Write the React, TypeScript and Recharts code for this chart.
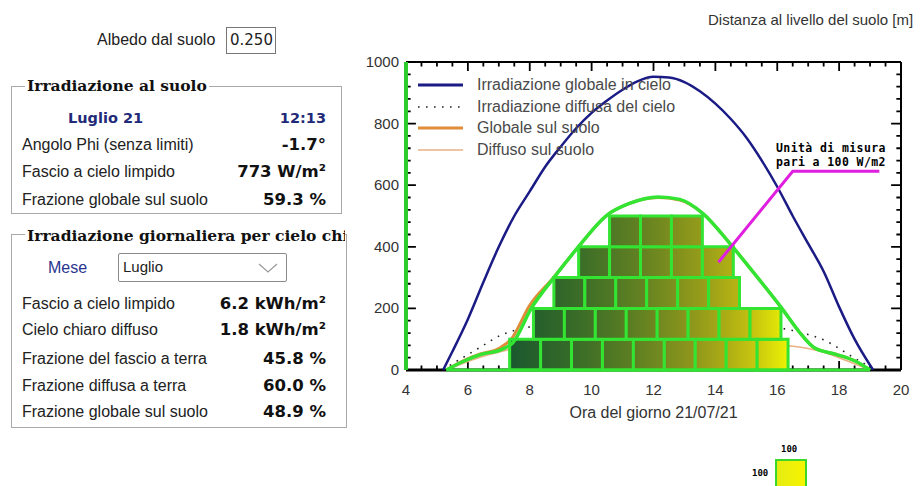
import React from "react";
import {
  LineChart,
  Line,
  XAxis,
  YAxis,
  ReferenceArea,
  ReferenceLine,
  Legend,
  Label,
} from "recharts";

// Irradiazione globale in cielo (W/m2)
const skyGlobalHours = [5.2, 5.5, 6, 6.5, 7, 7.5, 8, 8.5, 9, 9.5, 10, 10.5, 11, 11.5, 12, 12.5, 13, 13.5, 14, 14.5, 15, 15.5, 16, 16.5, 17, 17.5, 18, 18.5, 19.1];
const skyGlobalValues = [0, 60, 165, 285, 400, 500, 580, 660, 725, 785, 835, 875, 910, 938, 952, 950, 935, 905, 865, 815, 755, 680, 595, 500, 410, 320, 205, 100, 0];

// Irradiazione diffusa del cielo
const skyDiffuseHours = [5.2, 5.5, 6, 6.5, 7, 7.5, 8, 9, 10, 11, 12, 13, 14, 15, 16, 16.5, 17, 17.5, 18, 18.5, 19, 19.1];
const skyDiffuseValues = [0, 20, 50, 80, 110, 128, 140, 150, 155, 158, 160, 158, 155, 148, 138, 128, 115, 98, 70, 38, 8, 0];

// Globale sul suolo
const groundGlobalHours = [5.3, 5.9, 6.4, 7.0, 7.4, 8.0, 8.75, 9.55, 10.5, 11.2, 12.15, 12.85, 13.6, 14.5, 15.1, 16.15, 16.7, 17.2, 17.9, 18.5, 19.0];
const groundGlobalValues = [0, 32, 52, 70, 100, 210, 298, 397, 503, 540, 560, 552, 508, 407, 333, 200, 125, 72, 51, 30, 0];

// Diffuso sul suolo
const groundDiffuseHours = [5.3, 6, 6.5, 7, 7.5, 8, 9, 10, 11, 12, 13, 14, 15, 16, 16.5, 17, 17.5, 18, 18.5, 19];
const groundDiffuseValues = [0, 28, 45, 58, 70, 78, 85, 90, 93, 94, 93, 90, 86, 80, 77, 70, 58, 40, 20, 0];

// contorno verde disegnato sopra
const outlineHours = [5.3, 5.9, 6.4, 7.1, 7.45, 8.05, 8.75, 9.55, 10.5, 11.2, 12.15, 12.85, 13.6, 14.5, 15.1, 16.15, 16.7, 17.2, 17.9, 18.5, 19.0];
const outlineValues = [0, 30, 50, 67, 88, 200, 296, 397, 503, 540, 562, 554, 508, 407, 333, 200, 125, 72, 51, 30, 0];

// blocchi da 100 W/m2 (una riga per fascia)
const blockRowStarts = [7.35, 8.12, 8.78, 9.58, 10.58];
const blockRowCounts = [9, 8, 6, 5, 3];
const blockHours = 1.0;
const blockUnit = 100;

// freccia "Unità di misura"
const pointerHours = [14.1, 16.5, 19.3];
const pointerValues = [350, 645, 645];

const xMin = 4;
const xMax = 20;
const yMin = 0;
const yMax = 1000;
const xMajorTicks = [4, 6, 8, 10, 12, 14, 16, 18, 20];
const xTicks = Array.from({ length: 33 }, (_, i) => 4 + i * 0.5);
const yTicks = Array.from({ length: 26 }, (_, i) => i * 40);
const yMajorTicks = [0, 200, 400, 600, 800, 1000];

const legendLabels = [
  "Irradiazione globale in cielo",
  "Irradiazione diffusa del cielo",
  "Globale sul suolo",
  "Diffuso sul suolo",
];

const toPoints = (hours: number[], values: number[]) =>
  hours.map((h, i) => ({ hour: h, value: values[i] }));

const skyGlobal = toPoints(skyGlobalHours, skyGlobalValues);
const skyDiffuse = toPoints(skyDiffuseHours, skyDiffuseValues);
const groundGlobal = toPoints(groundGlobalHours, groundGlobalValues);
const groundDiffuse = toPoints(groundDiffuseHours, groundDiffuseValues);
const outline = toPoints(outlineHours, outlineValues);
const pointer = toPoints(pointerHours, pointerValues);

// tick marks drawn inward from each side of the frame (lengths in axis units)
const hourTickLen = (t: number) => (yMajorTicks.includes(t) ? 0.32 : 0.15);
const valueTickLen = (t: number) => (xMajorTicks.includes(t) ? 29 : 15);
const bottomTicks = xTicks.flatMap((t) => [
  { hour: t, value: yMin },
  { hour: t, value: yMin + valueTickLen(t) },
  { hour: t, value: yMin },
]);
const topTicks = xTicks.flatMap((t) => [
  { hour: t, value: yMax },
  { hour: t, value: yMax - valueTickLen(t) },
  { hour: t, value: yMax },
]);
const leftTicks = yTicks.flatMap((t) => [
  { hour: xMin, value: t },
  { hour: xMin + hourTickLen(t), value: t },
  { hour: xMin, value: t },
]);
const rightTicks = yTicks.flatMap((t) => [
  { hour: xMax, value: t },
  { hour: xMax - hourTickLen(t), value: t },
  { hour: xMax, value: t },
]);

const blocks = blockRowStarts.flatMap((start, row) =>
  Array.from({ length: blockRowCounts[row] }, (_, i) => ({
    id: `b${row}-${i}`,
    x1: start + i * blockHours,
    x2: start + (i + 1) * blockHours,
    y1: row * blockUnit,
    y2: (row + 1) * blockUnit,
  }))
);

// colour ramp, dark green -> yellow
const shade: [number, number[]][] = [
  [7.35, [26, 88, 46]],
  [9.5, [56, 108, 40]],
  [11.5, [96, 128, 34]],
  [13.5, [148, 154, 26]],
  [15.0, [190, 186, 18]],
  [16.4, [238, 244, 4]],
];
function shadeAt(h: number) {
  if (h <= shade[0][0]) return `rgb(${shade[0][1].join(",")})`;
  for (let i = 1; i < shade.length; i++) {
    if (h <= shade[i][0]) {
      const [h0, c0] = shade[i - 1];
      const [h1, c1] = shade[i];
      const t = (h - h0) / (h1 - h0);
      const c = c0.map((v, k) => Math.round(v + (c1[k] - v) * t));
      return `rgb(${c.join(",")})`;
    }
  }
  return `rgb(${shade[shade.length - 1][1].join(",")})`;
}

const BLUE = "#1b1b86";
const ORANGE = "#e08c38";
const ORANGE_LIGHT = "#eab184";
const GREEN = "#33e433";
const AXIS_GREEN = "#2ccc2c";
const MAGENTA = "#e01ee0";
const FRAME = "#000";

const BottomTick = (props: any) => {
  const { x, y, payload } = props;
  if (!xMajorTicks.includes(payload.value)) return <g />;
  return (
    <text x={x} y={y + 25} textAnchor="middle" fontSize={15} fill="#333" fontFamily="Liberation Sans">
      {payload.value}
    </text>
  );
};

const LeftTick = (props: any) => {
  const { x, y, payload } = props;
  if (!yMajorTicks.includes(payload.value)) return <g />;
  return (
    <text x={x - 7} y={y + 5} textAnchor="end" fontSize={15} fill="#333" fontFamily="Liberation Sans">
      {payload.value}
    </text>
  );
};

const legendSamples = [
  { stroke: BLUE, width: 3, dash: undefined },
  { stroke: "#222", width: 1.6, dash: "1.6 6.4" },
  { stroke: ORANGE, width: 3, dash: undefined },
  { stroke: ORANGE_LIGHT, width: 1.6, dash: undefined },
];

function LegendBox() {
  return (
    <div style={{ fontFamily: "Liberation Sans", fontSize: 16, color: "#4a4a4a" }}>
      {legendLabels.map((label, i) => (
        <div key={label} style={{ display: "flex", alignItems: "center", height: 21.7 }}>
          <svg width={59} height={10} style={{ flex: "none" }}>
            <line
              x1={0}
              y1={5}
              x2={45}
              y2={5}
              stroke={legendSamples[i].stroke}
              strokeWidth={legendSamples[i].width}
              strokeDasharray={legendSamples[i].dash}
            />
          </svg>
          <span style={{ whiteSpace: "nowrap" }}>{label}</span>
        </div>
      ))}
    </div>
  );
}

const abs = (left: number, top: number, extra: React.CSSProperties = {}): React.CSSProperties => ({
  position: "absolute",
  left,
  top,
  ...extra,
});

const labelFont: React.CSSProperties = {
  fontFamily: "Liberation Sans",
  fontSize: 16,
  color: "#222",
  whiteSpace: "nowrap",
  lineHeight: "20px",
};
const valueFont: React.CSSProperties = {
  fontFamily: "DejaVu Sans",
  fontWeight: 700,
  fontSize: 16.5,
  color: "#111",
  whiteSpace: "nowrap",
  lineHeight: "20px",
  textAlign: "right",
  width: 150,
};
const titleFont: React.CSSProperties = {
  fontFamily: "DejaVu Serif",
  fontWeight: 700,
  fontSize: 15.5,
  color: "#111",
  whiteSpace: "nowrap",
  lineHeight: "20px",
  background: "#fff",
  padding: "0 2px",
};

function Row({ cy, label, value }: { cy: number; label: string; value: string }) {
  return (
    <>
      <div style={abs(22, cy - 10, labelFont)}>{label}</div>
      <div style={abs(326 - 150, cy - 10, valueFont)}>{value}</div>
    </>
  );
}

function SidePanel() {
  return (
    <>
      <div style={abs(97, 30, labelFont)}>Albedo dal suolo</div>
      <div
        style={abs(226, 27, {
          width: 50,
          height: 27,
          border: "1.5px solid #777",
          fontFamily: "DejaVu Sans",
          fontSize: 15,
          lineHeight: "25px",
          paddingLeft: 3,
          boxSizing: "border-box",
          color: "#222",
        })}
      >
        0.250
      </div>

      <div style={abs(11, 86, { width: 331, height: 128, border: "1px solid #a9a9a9", boxSizing: "border-box" })} />
      <div style={abs(25, 76, titleFont)}>Irradiazione al suolo</div>
      <div style={abs(68, 108, { ...valueFont, width: "auto", textAlign: "left", color: "#1f2a78", fontSize: 14.5 })}>
        Luglio 21
      </div>
      <div style={abs(176, 108, { ...valueFont, color: "#1f2a78", fontSize: 14.5 })}>12:13</div>
      <Row cy={145} label="Angolo Phi (senza limiti)" value="-1.7°" />
      <Row cy={172} label="Fascio a cielo limpido" value="773 W/m²" />
      <Row cy={200} label="Frazione globale sul suolo" value="59.3 %" />

      <div style={abs(11, 234, { width: 336, height: 194, border: "1px solid #a9a9a9", boxSizing: "border-box" })} />
      <div style={abs(25, 226, { width: 320, overflow: "hidden", height: 22 })}>
        <div style={{ ...titleFont, display: "inline-block" }}>Irradiazione giornaliera per cielo chiaro</div>
      </div>
      <div style={abs(48, 258, { ...labelFont, color: "#2a3590" })}>Mese</div>
      <div
        style={abs(118, 253, {
          width: 169,
          height: 29,
          border: "1.5px solid #8a8a8a",
          borderRadius: 2,
          boxSizing: "border-box",
          fontFamily: "Liberation Sans",
          fontSize: 15,
          lineHeight: "26px",
          paddingLeft: 4,
          color: "#222",
        })}
      >
        Luglio
        <svg width={20} height={12} style={{ position: "absolute", right: 8, top: 8 }}>
          <polyline points="1,2 10,10 19,2" fill="none" stroke="#9a9a9a" strokeWidth={1.2} />
        </svg>
      </div>
      <Row cy={304} label="Fascio a cielo limpido" value="6.2 kWh/m²" />
      <Row cy={330} label="Cielo chiaro diffuso" value="1.8 kWh/m²" />
      <Row cy={359} label="Frazione del fascio a terra" value="45.8 %" />
      <Row cy={386} label="Frazione diffusa a terra" value="60.0 %" />
      <Row cy={412} label="Frazione globale sul suolo" value="48.9 %" />
    </>
  );
}

const tickLineProps = {
  dataKey: "value",
  type: "linear" as const,
  stroke: FRAME,
  strokeWidth: 1.8,
  dot: false,
  isAnimationActive: false,
  legendType: "none" as const,
};

export default function App() {
  return (
    <div
      style={{
        position: "absolute",
        left: 0,
        top: 0,
        width: 922,
        height: 486,
        overflow: "hidden",
        background: "#fff",
      }}
    >
      <SidePanel />

      <div style={abs(708, 10, { fontFamily: "Liberation Sans", fontSize: 15, color: "#333", whiteSpace: "nowrap", lineHeight: "20px" })}>
        Distanza al livello del suolo [m]
      </div>

      <div style={abs(350, 40)}>
        <LineChart width={572} height={400} margin={{ top: 22, right: 21, bottom: 0, left: 0 }}>
          <defs>
            {blocks.map((b) => (
              <linearGradient key={b.id} id={b.id} x1="0" y1="0" x2="1" y2="0">
                <stop offset="0%" stopColor={shadeAt(b.x1)} />
                <stop offset="100%" stopColor={shadeAt(b.x2)} />
              </linearGradient>
            ))}
          </defs>
          <XAxis
            dataKey="hour"
            type="number"
            domain={[xMin, xMax]}
            allowDataOverflow
            ticks={xTicks}
            interval={0}
            tickSize={0}
            tickMargin={0}
            tickLine={false}
            tick={BottomTick}
            height={70}
            axisLine={false}
          >
            <Label
              value="Ora del giorno 21/07/21"
              position="insideBottom"
              offset={22}
              style={{ fontFamily: "Liberation Sans", fontSize: 16, fill: "#333" }}
            />
          </XAxis>
          <YAxis
            type="number"
            domain={[yMin, yMax]}
            allowDataOverflow
            ticks={yTicks}
            interval={0}
            tickSize={0}
            tickMargin={0}
            tickLine={false}
            tick={LeftTick}
            width={56}
            axisLine={false}
          />
          <Legend
            layout="horizontal"
            align="center"
            verticalAlign="middle"
            wrapperStyle={{ left: 68, top: 34, width: 300, margin: 0, padding: 0 }}
            content={() => <LegendBox />}
          />

          {/* cornice e tacche */}
          <ReferenceLine y={yMax} stroke={FRAME} strokeWidth={2} />
          <ReferenceLine x={xMax} stroke={FRAME} strokeWidth={2} />
          <ReferenceLine y={yMin} stroke={FRAME} strokeWidth={3} />
          <Line data={bottomTicks} {...tickLineProps} />
          <Line data={topTicks} {...tickLineProps} />
          <Line data={leftTicks} {...tickLineProps} />
          <Line data={rightTicks} {...tickLineProps} />

          <Line data={skyDiffuse} dataKey="value" type="monotone" stroke="#222" strokeWidth={1.6} strokeDasharray="1.6 6.4" dot={false} isAnimationActive={false} />
          <Line data={groundDiffuse} dataKey="value" type="monotone" stroke={ORANGE_LIGHT} strokeWidth={1.6} dot={false} isAnimationActive={false} />
          <Line data={groundGlobal} dataKey="value" type="monotone" stroke={ORANGE} strokeWidth={3} dot={false} isAnimationActive={false} />
          <Line data={skyGlobal} dataKey="value" type="monotone" stroke={BLUE} strokeWidth={2.5} dot={false} isAnimationActive={false} />

          {blocks.map((b) => (
            <ReferenceArea
              key={b.id}
              x1={b.x1}
              x2={b.x2}
              y1={b.y1}
              y2={b.y2}
              fill={`url(#${b.id})`}
              fillOpacity={1}
              stroke={GREEN}
              strokeWidth={3}
              zIndex={450}
            />
          ))}

          <Line data={outline} dataKey="value" type="monotone" stroke={GREEN} strokeWidth={3.5} dot={false} isAnimationActive={false} zIndex={460} />
          <ReferenceLine
            segment={[
              { x: outlineHours[0], y: 0 },
              { x: outlineHours[outlineHours.length - 1], y: 0 },
            ]}
            stroke={GREEN}
            strokeWidth={3}
            zIndex={600}
          />
          <ReferenceLine x={xMin} stroke={AXIS_GREEN} strokeWidth={4} zIndex={600} />
          <Line data={pointer} dataKey="value" type="linear" stroke={MAGENTA} strokeWidth={3} dot={false} isAnimationActive={false} zIndex={470} />
        </LineChart>
      </div>

      <div
        style={abs(776, 141, {
          fontFamily: "DejaVu Sans Mono",
          fontWeight: 700,
          fontSize: 11.5,
          lineHeight: "14px",
          color: "#000",
          whiteSpace: "nowrap",
          letterSpacing: 0.4,
        })}
      >
        Unità di misura
        <br />
        pari a 100 W/m2
      </div>

      <div
        style={abs(775, 459, {
          width: 32,
          height: 32,
          boxSizing: "border-box",
          border: "2px solid #3ad82a",
          background: "linear-gradient(90deg, #e6ec12, #f6f400)",
        })}
      />
      <div style={abs(781, 444, { fontFamily: "DejaVu Sans Mono", fontWeight: 700, fontSize: 9, color: "#000" })}>100</div>
      <div style={abs(752, 468, { fontFamily: "DejaVu Sans Mono", fontWeight: 700, fontSize: 9, color: "#000" })}>100</div>
    </div>
  );
}
